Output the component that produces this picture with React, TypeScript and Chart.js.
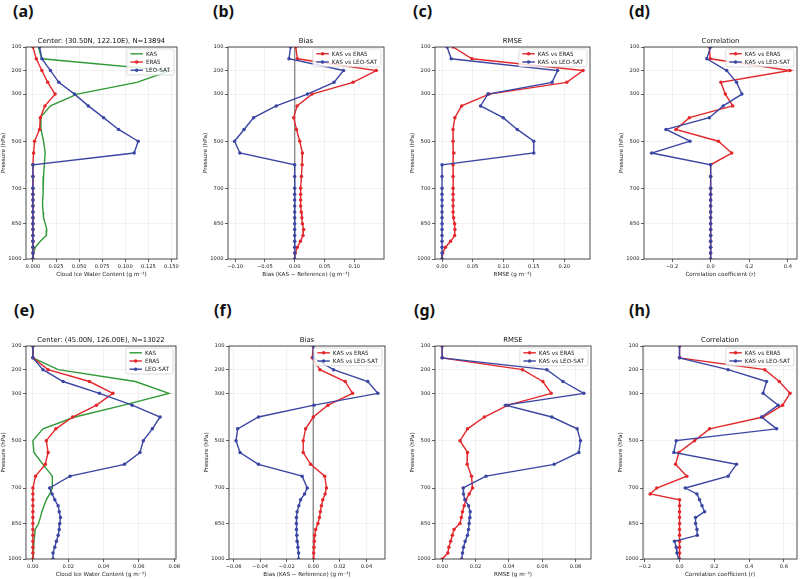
import { useEffect, useRef } from 'react';
import { Chart, registerables } from 'chart.js';

Chart.register(...registerables);

const FONT = '"DejaVu Sans", sans-serif';
const GREEN = '#2e9a36';
const RED = '#e3282c';
const BLUE = '#3b46a3';
const SPINE = '#3a3a3a';
const GRID = 'rgba(0,0,0,0.09)';

// Pressure levels of the profiles (hPa)
const LEVELS = [100, 150, 200, 250, 300, 350, 400, 450, 500, 550, 600, 650, 700, 725, 750, 775, 800, 825, 850, 875, 900, 925, 950, 975, 1000];
const PRESSURE_TICKS = [100, 200, 300, 500, 700, 850, 1000];

// Site 1: (30.50N, 122.10E)
const A_KAS = [0.006, 0.0095, 0.1486, 0.1125, 0.048, 0.019, 0.008, 0.0087, 0.0115, 0.0133, 0.0123, 0.0115, 0.011, 0.011, 0.0105, 0.0105, 0.011, 0.0115, 0.0133, 0.015, 0.0145, 0.008, 0.0025, 0.0007, 0.0003];
const A_ERA5 = [0.0, 0.0036, 0.0097, 0.016, 0.024, 0.013, 0.008, 0.0072, 0.0018, 0.0007, 0, 0, 0, 0, 0, 0, 0, 0, 0, 0, 0, 0, 0, 0, 0];
const A_LEO = [0.0072, 0.0097, 0.019, 0.028, 0.045, 0.06, 0.0765, 0.0927, 0.114, 0.1096, 0, 0, 0, 0, 0, 0, 0, 0, 0, 0, 0, 0, 0, 0, 0];

const B_ERA5 = [0.0017, 0.0045, 0.137, 0.098, 0.029, 0.004, -0.0017, 0.003, 0.0085, 0.013, 0.0125, 0.0113, 0.01, 0.01, 0.01, 0.01, 0.011, 0.012, 0.013, 0.015, 0.014, 0.0096, 0.0045, 0.001, 0];
const B_LEO = [-0.0068, -0.0096, 0.082, 0.066, 0.0215, -0.031, -0.069, -0.085, -0.101, -0.092, 0, 0, 0, 0, 0, 0, 0, 0, 0, 0, 0, 0, 0, 0, 0];

const C_ERA5 = [0.018, 0.049, 0.2306, 0.204, 0.077, 0.032, 0.021, 0.018, 0.018, 0.0194, 0.018, 0.018, 0.018, 0.018, 0.018, 0.018, 0.018, 0.019, 0.0206, 0.021, 0.0206, 0.014, 0.0056, 0.001, 0];
const C_LEO = [0.0083, 0.015, 0.189, 0.18, 0.075, 0.063, 0.1, 0.123, 0.15, 0.15, 0, 0, 0, 0, 0, 0, 0, 0, 0, 0, 0, 0, 0, 0, 0];

const D_ERA5 = [-0.007, -0.002, 0.41, 0.053, 0.076, 0.114, -0.11, -0.18, 0.04, 0.109, 0, 0, 0, 0, 0, 0, 0, 0, 0, 0, 0, 0, 0, 0, 0];
const D_LEO = [0, -0.02, 0.083, 0.134, 0.162, 0.065, -0.007, -0.231, -0.107, -0.305, 0, 0, 0, 0, 0, 0, 0, 0, 0, 0, 0, 0, 0, 0, 0];

// Site 2: (45.00N, 126.00E)
const E_KAS = [0, 0, 0.0143, 0.058, 0.077, 0.0514, 0.0238, 0.0057, 0, 0.0006, 0.0057, 0.011, 0.011, 0.0095, 0.0076, 0.0063, 0.0051, 0.0042, 0.0032, 0.0013, 0.001, 0.0006, 0.0004, 0.0002, 0];
const E_ERA5 = [0, 0, 0.0086, 0.032, 0.0453, 0.036, 0.0225, 0.013, 0.0076, 0.0086, 0.007, 0.0015, 0, 0, 0, 0, 0, 0, 0, 0, 0, 0, 0, 0, 0];
const E_LEO = [0, 0, 0.0057, 0.0171, 0.0377, 0.0562, 0.072, 0.0676, 0.0625, 0.0606, 0.0518, 0.021, 0.0095, 0.0109, 0.0124, 0.0143, 0.0149, 0.0156, 0.0152, 0.0149, 0.0143, 0.0133, 0.0124, 0.0114, 0.0114];

const F_ERA5 = [0, -0.0008, 0.005, 0.024, 0.0296, 0.011, 0, -0.0058, -0.0076, -0.0076, -0.002, 0.0086, 0.0099, 0.0089, 0.0071, 0.0061, 0.0053, 0.0046, 0.0035, 0.0018, 0.001, 0.0008, 0.0005, 0.0003, 0.0003];
const F_LEO = [0, 0, 0.0152, 0.041, 0.0486, 0.0005, -0.0413, -0.057, -0.0582, -0.0552, -0.0413, -0.0084, -0.0046, -0.0066, -0.0096, -0.0109, -0.0122, -0.0127, -0.0127, -0.0127, -0.0124, -0.0122, -0.0116, -0.0111, -0.0111];

const G_ERA5 = [0, 0, 0.0482, 0.0604, 0.0654, 0.0395, 0.0253, 0.0152, 0.0107, 0.0152, 0.015, 0.0176, 0.0182, 0.0162, 0.0142, 0.0132, 0.0122, 0.0115, 0.0107, 0.0071, 0.0061, 0.0051, 0.004, 0.0034, 0];
const G_LEO = [0, 0, 0.0628, 0.0725, 0.085, 0.0381, 0.0658, 0.081, 0.083, 0.082, 0.0672, 0.0263, 0.0126, 0.0128, 0.0136, 0.0158, 0.0168, 0.0166, 0.0162, 0.0158, 0.0152, 0.0138, 0.0128, 0.0122, 0.0117];

const H_ERA5 = [0, 0, 0.49, 0.573, 0.635, 0.592, 0.48, 0.173, 0.0865, -0.004, -0.023, 0.042, -0.131, -0.169, 0, 0, 0, 0, 0, 0, 0, 0, 0, 0, 0];
const H_LEO = [0, 0, 0.279, 0.5, 0.48, 0.567, 0.471, 0.558, -0.019, -0.033, 0.327, 0.279, 0.033, 0.1, 0.115, 0.129, 0.144, 0.092, 0.092, 0.1, 0.102, -0.029, -0.019, -0.015, -0.004];

// x-axis tick values
const TICKS_IWC_1 = [0, 0.025, 0.05, 0.075, 0.1, 0.125, 0.15];
const TICKS_BIAS_1 = [-0.1, -0.05, 0, 0.05, 0.1];
const TICKS_RMSE_1 = [0, 0.05, 0.1, 0.15, 0.2];
const TICKS_CORR_1 = [-0.2, 0, 0.2, 0.4];
const TICKS_IWC_2 = [0, 0.02, 0.04, 0.06, 0.08];
const TICKS_BIAS_2 = [-0.06, -0.04, -0.02, 0, 0.02, 0.04];
const TICKS_RMSE_2 = [0, 0.02, 0.04, 0.06, 0.08];
const TICKS_CORR_2 = [-0.2, 0, 0.2, 0.4, 0.6];

const TITLE_SITE_1 = 'Center: (30.50N, 122.10E), N=13894';
const TITLE_SITE_2 = 'Center: (45.00N, 126.00E), N=13022';
const LABEL_IWC = 'Cloud Ice Water Content (g m\u207B\u00B3)';
const LABEL_BIAS = 'Bias (KAS \u2212 Reference) (g m\u207B\u00B3)';
const LABEL_RMSE = 'RMSE (g m\u207B\u00B3)';
const LABEL_CORR = 'Correlation coefficient (r)';

type Series = { label: string; values: number[]; color: string; marker: boolean };
type PanelSpec = {
  tag: string;
  box: [number, number, number, number];
  title: string;
  xLabel: string;
  xMin: number;
  xMax: number;
  xTicks: number[];
  decimals: number;
  zeroLine: boolean;
  series: Series[];
};

const Y_AXIS_W = 26;
const X_AXIS_H = 19;
const TITLE_SIZE = 6.875;
const TITLE_PAD_TOP = 1.25;
const TITLE_PAD_BOTTOM = 1.5;
const TITLE_H = TITLE_PAD_TOP + TITLE_SIZE * 1.2 + TITLE_PAD_BOTTOM;
const PAD_R = 10;

const profileSeries = (kas: number[], era: number[], leo: number[]): Series[] => [
  { label: 'KAS', values: kas, color: GREEN, marker: false },
  { label: 'ERA5', values: era, color: RED, marker: true },
  { label: 'LEO-SAT', values: leo, color: BLUE, marker: true },
];
const pairSeries = (era: number[], leo: number[]): Series[] => [
  { label: 'KAS vs ERA5', values: era, color: RED, marker: true },
  { label: 'KAS vs LEO-SAT', values: leo, color: BLUE, marker: true },
];

const PANELS: PanelSpec[] = [
  { tag: '(a)', box: [26, 47, 177, 259], title: TITLE_SITE_1, xLabel: LABEL_IWC, xMin: -0.0075, xMax: 0.156, xTicks: TICKS_IWC_1, decimals: 3, zeroLine: false, series: profileSeries(A_KAS, A_ERA5, A_LEO) },
  { tag: '(b)', box: [228, 47, 384, 259], title: 'Bias', xLabel: LABEL_BIAS, xMin: -0.112, xMax: 0.15, xTicks: TICKS_BIAS_1, decimals: 2, zeroLine: true, series: pairSeries(B_ERA5, B_LEO) },
  { tag: '(c)', box: [435, 47, 590, 259], title: 'RMSE', xLabel: LABEL_RMSE, xMin: -0.0115, xMax: 0.242, xTicks: TICKS_RMSE_1, decimals: 2, zeroLine: false, series: pairSeries(C_ERA5, C_LEO) },
  { tag: '(d)', box: [644, 47, 797, 259], title: 'Correlation', xLabel: LABEL_CORR, xMin: -0.345, xMax: 0.447, xTicks: TICKS_CORR_1, decimals: 1, zeroLine: false, series: pairSeries(D_ERA5, D_LEO) },
  { tag: '(e)', box: [26, 346, 176, 559], title: TITLE_SITE_2, xLabel: LABEL_IWC, xMin: -0.0039, xMax: 0.081, xTicks: TICKS_IWC_2, decimals: 2, zeroLine: false, series: profileSeries(E_KAS, E_ERA5, E_LEO) },
  { tag: '(f)', box: [229, 346, 385, 559], title: 'Bias', xLabel: LABEL_BIAS, xMin: -0.0635, xMax: 0.054, xTicks: TICKS_BIAS_2, decimals: 2, zeroLine: true, series: pairSeries(F_ERA5, F_LEO) },
  { tag: '(g)', box: [435, 346, 591, 559], title: 'RMSE', xLabel: LABEL_RMSE, xMin: -0.0043, xMax: 0.0893, xTicks: TICKS_RMSE_2, decimals: 2, zeroLine: false, series: pairSeries(G_ERA5, G_LEO) },
  { tag: '(h)', box: [643, 346, 797, 559], title: 'Correlation', xLabel: LABEL_CORR, xMin: -0.21, xMax: 0.675, xTicks: TICKS_CORR_2, decimals: 1, zeroLine: false, series: pairSeries(H_ERA5, H_LEO) },
];

const fmt = (v: number, d: number) => {
  const s = Math.abs(v).toFixed(d);
  return v < -1e-12 ? '\u2212' + s : s;
};

// Plot frame (all four spines)
const framePlugin = {
  id: 'frame',
  afterDatasetsDraw(chart: any) {
    const { ctx, chartArea: a } = chart;
    ctx.save();
    ctx.strokeStyle = SPINE;
    ctx.lineWidth = 0.9;
    ctx.strokeRect(a.left, a.top, a.right - a.left, a.bottom - a.top);
    ctx.restore();
  },
};

// Legend drawn inside the upper-right corner of the plot area
const insideLegend = {
  id: 'insideLegend',
  afterDatasetsDraw(chart: any) {
    const { ctx, chartArea: a } = chart;
    const items = chart.data.datasets.filter((d: any) => d.label);
    const fontSize = 5.7;
    ctx.save();
    ctx.font = `${fontSize}px ${FONT}`;
    const textW = Math.max(...items.map((d: any) => ctx.measureText(d.label).width));
    const padL = 3.5, handle = 12.5, gap = 3, padR = 4, rowH = 8.2, firstRow = 4.8;
    const w = padL + handle + gap + textW + padR;
    const h = firstRow * 2 + rowH * (items.length - 1);
    const x0 = a.right - 3 - w;
    const y0 = a.top + 2;
    ctx.beginPath();
    ctx.roundRect(x0, y0, w, h, 1.5);
    ctx.fillStyle = 'rgba(255,255,255,0.82)';
    ctx.fill();
    ctx.strokeStyle = '#cfcfcf';
    ctx.lineWidth = 0.7;
    ctx.stroke();
    items.forEach((d: any, i: number) => {
      const y = y0 + firstRow + i * rowH;
      ctx.strokeStyle = d.borderColor;
      ctx.lineWidth = d.borderWidth;
      ctx.beginPath();
      ctx.moveTo(x0 + padL, y);
      ctx.lineTo(x0 + padL + handle, y);
      ctx.stroke();
      if (d.pointRadius > 0) {
        ctx.fillStyle = d.borderColor;
        ctx.beginPath();
        ctx.arc(x0 + padL + handle / 2, y, d.pointRadius, 0, Math.PI * 2);
        ctx.fill();
      }
      ctx.fillStyle = '#222';
      ctx.textBaseline = 'middle';
      ctx.textAlign = 'left';
      ctx.fillText(d.label, x0 + padL + handle + gap, y + 0.3);
    });
    ctx.restore();
  },
};

function ProfilePanel({ spec }: { spec: PanelSpec }) {
  const ref = useRef<HTMLCanvasElement | null>(null);
  const [l, t, r, b] = spec.box;
  const width = Y_AXIS_W + (r - l) + PAD_R;
  const height = TITLE_H + (b - t) + X_AXIS_H;

  useEffect(() => {
    if (!ref.current) return;
    const datasets: any[] = spec.series.map((s, i) => ({
      label: s.label,
      data: LEVELS.map((p, k) => ({ x: s.values[k], y: p })),
      showLine: true,
      borderColor: s.color,
      backgroundColor: s.color,
      borderWidth: 1.4,
      pointRadius: s.marker ? 1.75 : 0,
      pointBorderWidth: 0,
      pointHoverRadius: 0,
      tension: 0,
      order: spec.series.length - i,
    }));
    if (spec.zeroLine) {
      datasets.push({
        label: '',
        data: [{ x: 0, y: PRESSURE_TICKS[0] }, { x: 0, y: PRESSURE_TICKS[PRESSURE_TICKS.length - 1] }],
        showLine: true,
        borderColor: 'rgba(135,135,135,0.8)',
        borderWidth: 1,
        pointRadius: 0,
        order: 99,
      });
    }
    const tickFont = { family: FONT, size: 5.2 };
    const labelFont = { family: FONT, size: 5.6 };
    const chart = new Chart(ref.current, {
      type: 'scatter',
      data: { datasets },
      plugins: [framePlugin, insideLegend],
      options: {
        responsive: false,
        animation: false,
        devicePixelRatio: 1,
        events: [],
        layout: { padding: { left: 0, right: PAD_R, top: 0, bottom: 0 } },
        plugins: {
          legend: { display: false },
          tooltip: { enabled: false },
          title: {
            display: true,
            fullSize: false,
            text: spec.title,
            color: '#111',
            font: { family: FONT, size: TITLE_SIZE, weight: 'normal', lineHeight: 1.2 },
            padding: { top: TITLE_PAD_TOP, bottom: TITLE_PAD_BOTTOM },
          },
        },
        scales: {
          x: {
            type: 'linear',
            position: 'bottom',
            min: spec.xMin,
            max: spec.xMax,
            afterBuildTicks: (s: any) => {
              s.ticks = spec.xTicks.map((v) => ({ value: v }));
            },
            afterFit: (s: any) => {
              s.height = X_AXIS_H;
            },
            ticks: {
              callback: (v: any) => fmt(Number(v), spec.decimals),
              font: tickFont,
              color: '#222',
              padding: 1.5,
              maxRotation: 0,
              autoSkip: false,
            },
            grid: { color: GRID, lineWidth: 0.6, tickColor: SPINE, tickLength: 3, tickWidth: 0.8 },
            border: { display: false },
            title: { display: true, text: spec.xLabel, font: labelFont, color: '#222', padding: 0 },
          },
          y: {
            type: 'linear',
            reverse: true,
            min: PRESSURE_TICKS[0],
            max: PRESSURE_TICKS[PRESSURE_TICKS.length - 1],
            afterBuildTicks: (s: any) => {
              s.ticks = PRESSURE_TICKS.map((v) => ({ value: v }));
            },
            afterFit: (s: any) => {
              s.width = Y_AXIS_W;
            },
            ticks: {
              callback: (v: any) => String(v),
              font: tickFont,
              color: '#222',
              padding: 1.5,
              autoSkip: false,
            },
            grid: { color: GRID, lineWidth: 0.6, tickColor: SPINE, tickLength: 3, tickWidth: 0.8 },
            border: { display: false },
            title: { display: true, text: 'Pressure (hPa)', font: labelFont, color: '#222', padding: 0 },
          },
        },
      } as any,
    });
    return () => chart.destroy();
  }, [spec]);

  return (
    <canvas
      ref={ref}
      width={width}
      height={height}
      style={{ position: 'absolute', left: l - Y_AXIS_W, top: t - TITLE_H, width, height }}
    />
  );
}

const TAG_POS: Record<string, [number, number]> = {
  '(a)': [13, 1],
  '(b)': [213, 1],
  '(c)': [413, 1],
  '(d)': [629, 1],
  '(e)': [14, 300],
  '(f)': [214, 300],
  '(g)': [414, 300],
  '(h)': [629, 300],
};

export default function App() {
  return (
    <div
      style={{
        position: 'absolute',
        left: 0,
        top: 0,
        width: 800,
        height: 579,
        overflow: 'hidden',
        background: '#ffffff',
      }}
    >
      {PANELS.map((p) => (
        <ProfilePanel key={p.tag} spec={p} />
      ))}
      {PANELS.map((p) => (
        <div
          key={'tag' + p.tag}
          style={{
            position: 'absolute',
            left: TAG_POS[p.tag][0],
            top: TAG_POS[p.tag][1],
            fontFamily: '"Noto Sans", sans-serif',
            fontWeight: 700,
            fontSize: 16,
            lineHeight: '20px',
            color: '#111',
          }}
        >
          {p.tag}
        </div>
      ))}
    </div>
  );
}
